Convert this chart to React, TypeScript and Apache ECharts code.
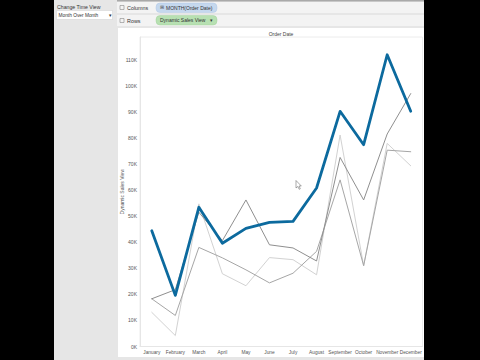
import React, { useEffect, useRef } from "react";
import * as echarts from "echarts";

const months = ["January", "February", "March", "April", "May", "June", "July", "August", "September", "October", "November", "December"];
const dynamicSales = [44400, 19600, 53400, 39600, 45300, 47600, 48000, 60800, 90200, 77400, 111900, 90200];
const salesA = [18300, 21800, 51500, 40600, 56200, 39000, 37800, 32800, 72500, 56200, 81500, 97000];
const salesB = [18300, 11900, 38000, 34000, 29400, 24400, 28100, 36500, 63900, 31000, 75300, 74700];
const salesC = [13100, 4200, 54700, 27900, 23300, 34100, 33300, 27500, 81100, 31000, 77900, 69300];
const yMax = 118700;
const yInterval = 10000;

const FONT = "'Liberation Sans', Arial, sans-serif";

export default function App() {
  const ref = useRef<HTMLDivElement>(null);
  useEffect(() => {
    if (!ref.current) return;
    const chart = echarts.init(ref.current, null, { renderer: "svg" });
    const txt = (x: number, y: number, text: string, extra: any = {}) => ({
      type: "text",
      x,
      y,
      silent: true,
      style: { text, fill: "#333", fontSize: 5, fontFamily: FONT, textVerticalAlign: "middle", ...extra },
    });
    const line = (data: number[], color: string, width: number, z: number) => ({
      type: "line",
      data,
      symbol: "none",
      z,
      lineStyle: { color, width, cap: "round", join: "round" },
      emphasis: { disabled: true },
    });
    chart.setOption({
      animation: false,
      backgroundColor: "#000000",
      grid: {
        left: 140,
        right: 57.5,
        top: 37,
        bottom: 13.5,
        show: true,
        backgroundColor: "#ffffff",
        borderColor: "#ececec",
        borderWidth: 1,
      },
      xAxis: {
        type: "category",
        data: months,
        boundaryGap: true,
        axisLine: { show: true, lineStyle: { color: "#e6e6e6", width: 1 } },
        axisTick: { show: false },
        axisLabel: { fontSize: 4.8, color: "#555", fontFamily: FONT, margin: 3, interval: 0, hideOverlap: false },
        splitLine: { show: false },
      },
      yAxis: {
        type: "value",
        min: 0,
        max: yMax,
        interval: yInterval,
        name: "Dynamic Sales View",
        nameLocation: "middle",
        nameGap: 16,
        nameMoveOverlap: false,
        nameTextStyle: { fontSize: 5, color: "#555", fontFamily: FONT },
        axisLine: { show: true, lineStyle: { color: "#e6e6e6" } },
        axisTick: { show: false },
        splitLine: { show: false },
        axisLabel: {
          fontSize: 5,
          color: "#555",
          fontFamily: FONT,
          margin: 3,
          showMaxLabel: false,
          formatter: (v: number) => `${Math.round(v / 1000)}K`,
        },
      },
      series: [
        line(salesC, "#d2d2d2", 1, 2),
        line(salesB, "#a6a6a6", 1, 3),
        line(salesA, "#8f8f8f", 1, 4),
        line(dynamicSales, "#0c6a9e", 2.8, 10),
      ],
      graphic: [
        { type: "rect", z: -10, silent: true, shape: { x: 54, y: 0, width: 370, height: 360 }, style: { fill: "#e6e6e6" } },
        { type: "rect", z: -9, silent: true, shape: { x: 117, y: 0, width: 307, height: 1.5 }, style: { fill: "#a9a9a9" } },
        { type: "rect", z: -9, silent: true, shape: { x: 117, y: 2, width: 307, height: 11 }, style: { fill: "#f3f3f3" } },
        { type: "rect", z: -9, silent: true, shape: { x: 117, y: 15, width: 307, height: 11 }, style: { fill: "#f3f3f3" } },
        { type: "rect", z: -9, silent: true, shape: { x: 118, y: 28, width: 306, height: 329 }, style: { fill: "#ffffff" } },
        // left panel
        txt(57, 6.5, "Change Time View", { fontSize: 5.2 }),
        { type: "rect", silent: true, shape: { x: 56.5, y: 10.5, width: 56, height: 9 }, style: { fill: "#ffffff", stroke: "#cfcfcf", lineWidth: 0.5 } },
        txt(58.5, 15, "Month Over Month", { fontSize: 4.8 }),
        txt(108.5, 15, "▾", { fontSize: 5 }),
        // shelves
        { type: "rect", silent: true, shape: { x: 120, y: 5.5, width: 4, height: 4 }, style: { fill: "none", stroke: "#888", lineWidth: 0.6 } },
        { type: "rect", silent: true, shape: { x: 120, y: 18.5, width: 4, height: 4 }, style: { fill: "none", stroke: "#888", lineWidth: 0.6 } },
        txt(127, 7.8, "Columns", { fontSize: 5.4 }),
        txt(127, 20.8, "Rows", { fontSize: 5.4 }),
        { type: "rect", silent: true, shape: { x: 156, y: 3, width: 61, height: 9.5, r: 4 }, style: { fill: "#c5d8ee", stroke: "#aac3e2", lineWidth: 0.4 } },
        txt(160, 7.8, "⊞", { fontSize: 4.5, fill: "#555" }),
        txt(166, 7.8, "MONTH(Order Date)", { fontSize: 5 }),
        { type: "rect", silent: true, shape: { x: 156, y: 15.5, width: 61, height: 9.5, r: 4 }, style: { fill: "#b7e0b2", stroke: "#9ccf96", lineWidth: 0.4 } },
        txt(160, 20.3, "Dynamic Sales View", { fontSize: 5 }),
        txt(209.5, 20.3, "▾", { fontSize: 5 }),
        // header
        txt(281, 33.8, "Order Date", { fontSize: 5, fill: "#444", align: "center" }),
        // cursor
        {
          type: "polygon",
          z: 50,
          silent: true,
          shape: { points: [[296, 180.5], [296, 188], [297.8, 186.5], [299.2, 189.3], [300.3, 188.8], [299, 186], [301.3, 186]] },
          style: { fill: "#ffffff", stroke: "#555", lineWidth: 0.5 },
        },
      ],
    });
    return () => chart.dispose();
  }, []);
  return <div ref={ref} style={{ position: "absolute", left: 0, top: 0, width: 480, height: 360 }} />;
}
